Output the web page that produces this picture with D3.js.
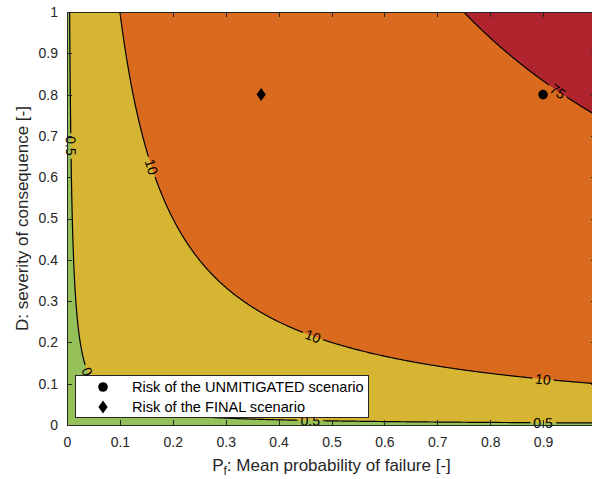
<!DOCTYPE html>
<html>
<head>
<meta charset="utf-8">
<script src="https://cdn.jsdelivr.net/npm/d3@7"></script>
<style>
  body { margin: 0; background: #fff; }
  svg { display: block; font-family: "Liberation Sans", Arial, Helvetica, sans-serif; }
</style>
</head>
<body>
<svg id="chart" width="592" height="479"></svg>
<script>
// contour levels of the risk R = 100 * Pf * D and the band colours between them
const riskLevels = [0.5, 10, 75];
const bandColors = ['#96c05a', '#d6b532', '#da6a1e', '#b0252d'];

const tickValues = [0, 0.1, 0.2, 0.3, 0.4, 0.5, 0.6, 0.7, 0.8, 0.9, 1];

// scenarios
const scenarioNames = ['Risk of the UNMITIGATED scenario', 'Risk of the FINAL scenario'];
const scenarioPf = [0.9, 0.367];
const scenarioD = [0.8, 0.8];
const scenarioSymbols = ['circle', 'diamond'];

// inline contour labels (level, Pf where the label sits on the line)
const labelLevel = [0.5, 0.5, 0.5, 0.5, 10, 10, 10, 75];
const labelPf = [0.0074, 0.043, 0.46, 0.9, 0.16, 0.465, 0.9, 0.928];

const axisColor = '#262626';
const svg = d3.select('#chart');

const x = d3.scaleLinear().domain([0, 1]).range([67, 596]);
const y = d3.scaleLinear().domain([0, 1]).range([425, 12]);

// risk surface sampled on a grid a little wider than the axes
const step = 0.002;
const g0 = -0.02;
const n = 526;
const values = new Array(n * n);
for (let j = 0; j < n; j++) {
  for (let i = 0; i < n; i++) {
    values[j * n + i] = 100 * (g0 + i * step) * (g0 + j * step);
  }
}
const contours = d3.contours().size([n, n]).thresholds(riskLevels)(values);

const proj = d3.geoTransform({
  point: function (px, py) {
    this.stream.point(x(g0 + (px - 0.5) * step), y(g0 + (py - 0.5) * step));
  }
});
const path = d3.geoPath(proj);

const defs = svg.append('defs');
defs.append('clipPath').attr('id', 'plotClip')
  .append('rect')
  .attr('x', x(0)).attr('y', y(1))
  .attr('width', x(1) - x(0)).attr('height', y(0) - y(1));

const plot = svg.append('g').attr('clip-path', 'url(#plotClip)');

plot.append('rect')
  .attr('x', x(0)).attr('y', y(1))
  .attr('width', x(1) - x(0)).attr('height', y(0) - y(1))
  .attr('fill', bandColors[0]);

plot.selectAll('path.band')
  .data(contours)
  .enter()
  .append('path')
  .attr('class', 'band')
  .attr('d', path)
  .attr('fill', (d, i) => bandColors[i + 1]);

// mask that cuts the lines where labels sit
const mask = defs.append('mask').attr('id', 'lineMask').attr('maskUnits', 'userSpaceOnUse')
  .attr('x', 0).attr('y', 0).attr('width', 592).attr('height', 479);
mask.append('rect').attr('width', 592).attr('height', 479).attr('fill', '#fff');

const lines = plot.append('g').attr('mask', 'url(#lineMask)');
lines.selectAll('path')
  .data(contours)
  .enter()
  .append('path')
  .attr('d', path)
  .attr('fill', 'none')
  .attr('stroke', '#000')
  .attr('stroke-width', 1.2);

// labels, rotated along the hyperbola D = level / (100 Pf)
const kx = x(1) - x(0);
const ky = y(0) - y(1);
const labels = labelLevel.map((lev, i) => {
  const pf = labelPf[i];
  const c = lev / 100;
  const d = c / pf;
  const angle = Math.atan2(ky * c / (pf * pf), kx) * 180 / Math.PI;
  return { text: String(lev), px: x(pf), py: y(d), angle: angle };
});

const labelG = svg.append('g');
labels.forEach((l) => {
  const t = labelG.append('text')
    .attr('transform', `translate(${l.px},${l.py}) rotate(${l.angle})`)
    .attr('text-anchor', 'middle')
    .attr('dy', '0.36em')
    .attr('font-size', 14)
    .attr('fill', '#000')
    .text(l.text);
  const w = t.node().getComputedTextLength();
  mask.append('rect')
    .attr('transform', `translate(${l.px},${l.py}) rotate(${l.angle})`)
    .attr('x', -w / 2 - 3).attr('y', -6)
    .attr('width', w + 6).attr('height', 12)
    .attr('fill', '#000');
});

// scenario markers
const symbolPath = (type, cx, cy) => {
  if (type === 'circle') {
    return `M${cx - 4.8},${cy}a4.8,4.8 0 1,0 9.6,0a4.8,4.8 0 1,0 -9.6,0Z`;
  }
  return `M${cx},${cy - 6.5}L${cx + 4.6},${cy}L${cx},${cy + 6.5}L${cx - 4.6},${cy}Z`;
};

svg.append('g')
  .selectAll('path')
  .data(scenarioNames)
  .enter()
  .append('path')
  .attr('d', (d, i) => symbolPath(scenarioSymbols[i], x(scenarioPf[i]), y(scenarioD[i])))
  .attr('fill', '#000');

// axes: ticks pointing inward on all four sides
const styleAxis = (g) => {
  g.select('.domain').remove();
  g.selectAll('.tick line').attr('stroke', axisColor).attr('shape-rendering', 'crispEdges');
  g.selectAll('.tick text').attr('fill', axisColor).attr('font-size', 14)
    .attr('font-family', '"Liberation Sans", Arial, Helvetica, sans-serif');
};

// the "1" on the x axis falls outside the window, as in the original figure
svg.append('g')
  .attr('transform', `translate(0,${y(0)})`)
  .call(d3.axisBottom(x).tickValues(tickValues).tickFormat((d) => (d === 1 ? '' : d3.format('~g')(d)))
    .tickSizeInner(-5).tickSizeOuter(0).tickPadding(12))
  .call(styleAxis);

svg.append('g')
  .attr('transform', `translate(${x(0)},0)`)
  .call(d3.axisLeft(y).tickValues(tickValues).tickFormat(d3.format('~g'))
    .tickSizeInner(-5).tickSizeOuter(0).tickPadding(9))
  .call(styleAxis);

svg.append('g')
  .attr('transform', `translate(0,${y(1)})`)
  .call(d3.axisTop(x).tickValues(tickValues).tickFormat('').tickSizeInner(-5).tickSizeOuter(0))
  .call(styleAxis);

svg.append('g')
  .attr('transform', `translate(${x(1)},0)`)
  .call(d3.axisRight(y).tickValues(tickValues).tickFormat('').tickSizeInner(-5).tickSizeOuter(0))
  .call(styleAxis);

svg.append('rect')
  .attr('x', x(0) + 0.5).attr('y', y(1) + 0.5)
  .attr('width', x(1) - x(0)).attr('height', y(0) - y(1))
  .attr('fill', 'none')
  .attr('stroke', axisColor)
  .attr('stroke-width', 1);

// axis titles
const xTitle = svg.append('text')
  .attr('x', (x(0) + x(1)) / 2)
  .attr('y', 471)
  .attr('text-anchor', 'middle')
  .attr('font-size', 17)
  .attr('fill', axisColor);
xTitle.append('tspan').text('P');
xTitle.append('tspan').attr('font-size', 12).attr('dy', 4).text('f');
xTitle.append('tspan').attr('dy', -4).text(': Mean probability of failure [-]');

svg.append('text')
  .attr('transform', `translate(28,${(y(0) + y(1)) / 2}) rotate(-90)`)
  .attr('text-anchor', 'middle')
  .attr('font-size', 17)
  .attr('fill', axisColor)
  .text('D: severity of consequence [-]');

// legend
const legend = svg.append('g');
legend.append('rect')
  .attr('x', 75.5).attr('y', 375.5)
  .attr('width', 293).attr('height', 42)
  .attr('fill', '#fff')
  .attr('stroke', axisColor)
  .attr('stroke-width', 1);

scenarioNames.forEach((name, i) => {
  const cy = 387 + i * 20;
  legend.append('path')
    .attr('d', symbolPath(scenarioSymbols[i], 103, cy))
    .attr('fill', '#000');
  legend.append('text')
    .attr('x', 132)
    .attr('y', cy)
    .attr('dy', '0.36em')
    .attr('font-size', 14.6)
    .attr('fill', '#000')
    .text(name);
});
</script>
</body>
</html>
